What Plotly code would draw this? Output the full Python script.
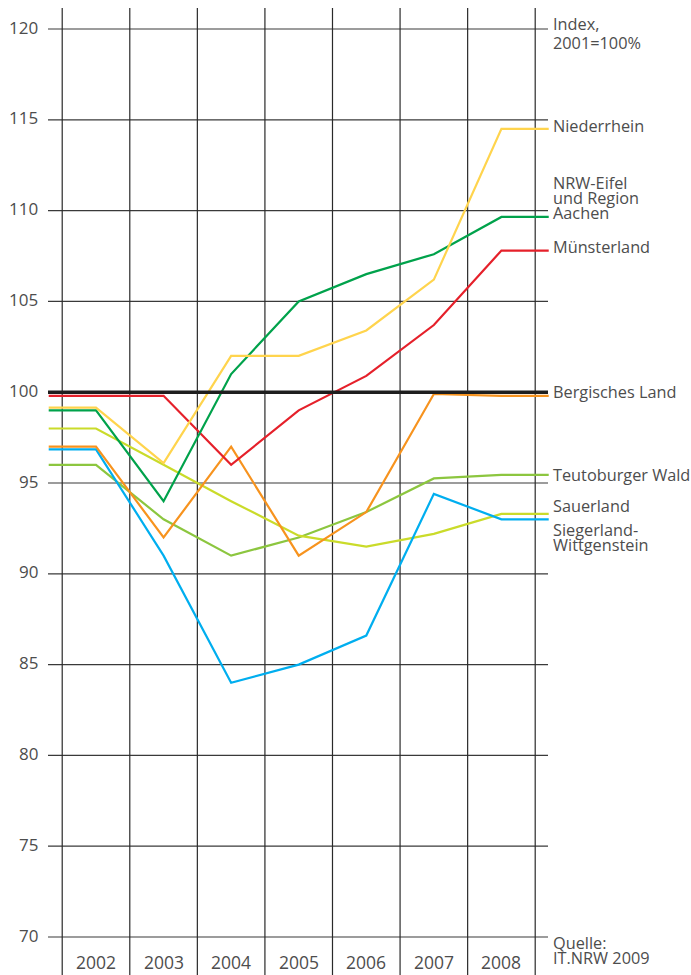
import plotly.graph_objects as go

# Figure size in pixels
W, H = 691, 975

# ---- Data: tourism index by region, 2001 = 100 ----
years = [2002, 2003, 2004, 2005, 2006, 2007, 2008]
year_labels = ["2002", "2003", "2004", "2005", "2006", "2007", "2008"]

niederrhein = [99.15, 96.1, 102.0, 102.0, 103.4, 106.2, 114.5]
nrw_eifel_aachen = [99.0, 94.0, 101.0, 105.0, 106.5, 107.6, 109.65]
muensterland = [99.8, 99.8, 96.0, 99.0, 100.9, 103.7, 107.8]
bergisches_land = [97.0, 92.0, 97.0, 91.0, 93.4, 99.9, 99.8]
teutoburger_wald = [96.0, 93.0, 91.0, 92.0, 93.4, 95.25, 95.45]
sauerland = [98.0, 96.0, 94.0, 92.1, 91.5, 92.2, 93.3]
siegerland_wittgenstein = [96.85, 91.0, 84.0, 85.0, 86.6, 94.4, 93.0]

y_ticks = [70, 75, 80, 85, 90, 95, 100, 105, 110, 115, 120]
base_index = 100

# ---- Geometry: pixel <-> data mapping ----
PX_PER_YEAR = 67.57
FIRST_YEAR_PX = 96
PX_PER_UNIT = 18.16
TOP_TICK_PX = 29

x_range = [years[0] - FIRST_YEAR_PX / PX_PER_YEAR,
           years[0] + (W - FIRST_YEAR_PX) / PX_PER_YEAR]
y_range = [y_ticks[-1] - (H - TOP_TICK_PX) / PX_PER_UNIT,
           y_ticks[-1] + TOP_TICK_PX / PX_PER_UNIT]


def px_x(px):
    return x_range[0] + px / PX_PER_YEAR


def px_y(py):
    return y_ticks[-1] - (py - TOP_TICK_PX) / PX_PER_UNIT


GRID_LEFT = px_x(48)
GRID_RIGHT = px_x(548)
EXT = 0.70  # how far the series run past the first/last year

TEXT = "#4d4d4d"
FONT = "Open Sans"

series = [
    ("Teutoburger Wald", teutoburger_wald, "#8cc63f"),
    ("Sauerland", sauerland, "#cadb2a"),
    ("Siegerland-Wittgenstein", siegerland_wittgenstein, "#00aeef"),
    ("Bergisches Land", bergisches_land, "#f7931e"),
    ("Münsterland", muensterland, "#e5202a"),
    ("NRW-Eifel und Region Aachen", nrw_eifel_aachen, "#00a24b"),
    ("Niederrhein", niederrhein, "#ffd44d"),
]

fig = go.Figure()

for name, vals, color in series:
    xs = [years[0] - EXT] + years + [years[-1] + EXT]
    ys = [vals[0]] + vals + [vals[-1]]
    fig.add_trace(go.Scatter(
        x=xs, y=ys, mode="lines", name=name,
        line=dict(color=color, width=2.2),
        hoverinfo="skip", showlegend=False,
    ))

shapes = []
# horizontal grid
for t in y_ticks:
    shapes.append(dict(type="line", xref="x", yref="y",
                       x0=GRID_LEFT, x1=GRID_RIGHT, y0=t, y1=t,
                       line=dict(color="#3a3a3a", width=1.2), layer="below"))
# vertical separators between years
for k in range(len(years) + 1):
    xv = years[0] - 0.5 + k
    shapes.append(dict(type="line", xref="x", yref="y",
                       x0=xv, x1=xv, y0=y_range[0], y1=px_y(8),
                       line=dict(color="#2a2a2a", width=1.2), layer="below"))
# reference line at 100
shapes.append(dict(type="line", xref="x", yref="y",
                   x0=GRID_LEFT, x1=GRID_RIGHT, y0=base_index, y1=base_index,
                   line=dict(color="#1e1e1e", width=3.5), layer="above"))

annotations = []
# y tick labels
for t in y_ticks:
    annotations.append(dict(
        x=40 / W, xref="paper", y=t, yref="y", text=str(t),
        xanchor="right", yanchor="middle", showarrow=False,
        yshift=2, font=dict(family=FONT, size=17, color=TEXT)))
# year labels, sitting on the bottom edge
for yr, lab in zip(years, year_labels):
    annotations.append(dict(
        x=yr, xref="x", y=0, yref="paper", text=lab,
        xanchor="center", yanchor="bottom", showarrow=False,
        borderpad=0, font=dict(family=FONT, size=17.5, color=TEXT)))

# right-hand labels (text, pixel y of line centre)
right_labels = [
    ("Index,", 24), ("2001=100%", 43),
    ("Niederrhein", 126),
    ("NRW-Eifel", 183), ("und Region", 198), ("Aachen", 213),
    ("Münsterland", 247),
    ("Bergisches Land", 392),
    ("Teutoburger Wald", 475),
    ("Sauerland", 506),
    ("Siegerland-", 530), ("Wittgenstein", 545),
    ("Quelle:", 943), ("IT.NRW 2009", 958),
]
for txt, py in right_labels:
    annotations.append(dict(
        x=551 / W, xref="paper", y=1 - py / H, yref="paper", text=txt,
        xanchor="left", yanchor="middle", showarrow=False,
        font=dict(family=FONT, size=16.3, color=TEXT)))

fig.update_layout(
    width=W, height=H,
    margin=dict(l=0, r=0, t=0, b=0),
    paper_bgcolor="white", plot_bgcolor="white",
    xaxis=dict(range=x_range, visible=False, fixedrange=True),
    yaxis=dict(range=y_range, visible=False, fixedrange=True),
    shapes=shapes, annotations=annotations,
    showlegend=False,
)

fig.write_html("out.html")
